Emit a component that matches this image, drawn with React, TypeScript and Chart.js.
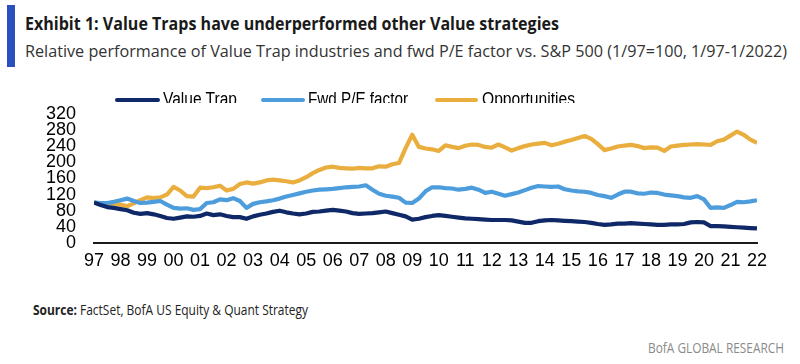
import React, { useEffect, useLayoutEffect, useRef } from "react";
import { Chart, registerables } from "chart.js";

Chart.register(...registerables);

// Quarterly observation dates, Jan 1997 .. Jan 2022
const firstYear = 1997;
const lastYear = 2022;
const quarters: number[] = Array.from({ length: (lastYear - firstYear) * 4 + 1 }, (_, i) => firstYear + i / 4);

const seriesNames = ["Value Trap", "Fwd P/E factor", "Opportunities"];

const valueTrap: number[] = [
  100, 94, 89, 87,
  84, 81, 75, 72,
  74, 71, 67, 62,
  60, 63, 66, 65,
  67, 73, 69, 71,
  67, 64, 64, 60,
  66, 70, 73, 77,
  80, 76, 73, 71,
  73, 77, 78, 80,
  82, 80, 78, 74,
  72, 73, 74, 76,
  78, 74, 70, 66,
  58, 60, 64, 67,
  69, 67, 65, 63,
  61, 60, 59, 58,
  57, 57, 57, 56,
  53, 50, 50, 54,
  56, 57, 56, 55,
  54, 53, 52, 50,
  47, 45, 46, 48,
  48, 49, 48, 47,
  46, 45, 45, 46,
  46, 47, 51, 52,
  51, 42, 42, 41,
  40, 39, 38, 37,
  36,
];

const fwdPE: number[] = [
  100, 99, 99, 102,
  106, 110, 104, 99,
  100, 102, 104, 95,
  87, 85, 86, 82,
  84, 99, 101, 108,
  106, 111, 104, 87,
  97, 101, 103, 106,
  110, 115, 119, 123,
  127, 130, 132, 133,
  134, 136, 138, 139,
  140, 143, 132, 122,
  117, 115, 112, 100,
  99, 110, 128, 138,
  138, 136, 135, 132,
  134, 137, 132, 124,
  127, 122, 117, 121,
  125, 131, 137, 141,
  140, 139, 140, 133,
  130, 128, 127, 124,
  119, 116, 112, 120,
  127, 127, 123, 122,
  125, 124, 120, 118,
  116, 113, 112, 116,
  108, 87, 88, 87,
  94, 102, 101, 103,
  106,
];

const opportunities: number[] = [
  102, 95, 97, 98,
  95, 91, 98, 106,
  113, 111, 113, 120,
  139, 130, 116, 115,
  137, 136, 138, 142,
  130, 134, 146, 150,
  147, 150, 155, 157,
  155, 153, 150, 155,
  163, 173, 181, 187,
  189, 186, 185, 184,
  186, 185, 185, 190,
  189, 195, 198, 235,
  268, 238, 234, 232,
  228, 242, 238, 235,
  241, 244, 243, 238,
  236, 244, 237, 229,
  235, 240, 244, 246,
  248, 242, 246, 251,
  255, 260, 265, 258,
  245, 230, 234, 239,
  241, 243, 240, 235,
  237, 236, 228, 239,
  241, 243, 244, 245,
  244, 243, 252, 256,
  266, 276, 268, 256,
  248,
];

const yTicks = { min: 0, max: 320, step: 40 };

const colors = ["#0f2868", "#4d9ddd", "#e9ae3e"];
const narrow = "'Liberation Sans Narrow', 'Arial Narrow', 'Liberation Sans', Arial, sans-serif";

function FitText(props: { width: number; style?: React.CSSProperties; children: React.ReactNode }) {
  const ref = useRef<HTMLSpanElement>(null);
  useLayoutEffect(() => {
    const el = ref.current;
    if (!el) return;
    el.style.transform = "none";
    const w = el.getBoundingClientRect().width;
    if (w > 0) el.style.transform = `scaleX(${props.width / w})`;
  });
  return (
    <span
      ref={ref}
      style={{ display: "inline-block", whiteSpace: "nowrap", transformOrigin: "left top", ...props.style }}
    >
      {props.children}
    </span>
  );
}

export default function App() {
  const canvasRef = useRef<HTMLCanvasElement>(null);

  useEffect(() => {
    document.body.style.margin = "0";
    const ctx = canvasRef.current!;
    const series = [valueTrap, fwdPE, opportunities];
    const chart = new Chart(ctx, {
      type: "line",
      data: {
        datasets: series.map((vals, k) => ({
          label: seriesNames[k],
          data: quarters.map((x, i) => ({ x, y: vals[i] })),
          borderColor: colors[k],
          backgroundColor: colors[k],
          borderWidth: 4.2,
          pointRadius: 0,
          tension: 0,
          borderJoinStyle: "round" as const,
          fill: false,
        })),
      },
      options: {
        animation: false,
        responsive: false,
        maintainAspectRatio: false,
        layout: { padding: { top: 13, right: 43, left: 0, bottom: 0 } },
        plugins: { legend: { display: false }, tooltip: { enabled: false } },
        scales: {
          x: {
            type: "linear",
            min: firstYear,
            max: lastYear,
            grid: { display: false, drawTicks: false },
            border: { display: true, color: "#1a1a1a", width: 2 },
            ticks: {
              stepSize: 1,
              autoSkip: false,
              maxRotation: 0,
              padding: 7,
              color: "#000",
              font: { family: narrow, size: 18 },
              callback: (v: any) => String(Number(v) % 100).padStart(2, "0"),
            },
            afterFit: (s: any) => {
              s.height = 32;
            },
          },
          y: {
            min: yTicks.min,
            max: yTicks.max,
            grid: { display: false, drawTicks: false },
            border: { display: false },
            ticks: {
              stepSize: yTicks.step,
              autoSkip: false,
              padding: 18,
              color: "#000",
              font: { family: narrow, size: 18 },
            },
            afterFit: (s: any) => {
              s.width = 94;
            },
          },
        },
      },
    });
    return () => chart.destroy();
  }, []);

  const legendItems = [
    { line: [115, 160], text: 163, w: 74 },
    { line: [261, 305], text: 308, w: 100 },
    { line: [435, 478], text: 482, w: 93 },
  ];

  return (
    <div
      style={{
        position: "fixed",
        left: 0,
        top: 0,
        width: 800,
        height: 364,
        background: "#fff",
        overflow: "hidden",
      }}
    >
      <div style={{ position: "absolute", left: 7, top: 5, width: 8, height: 62, background: "#2a50bf" }} />
      <div style={{ position: "absolute", left: 25, top: 14, lineHeight: 1 }}>
        <FitText width={534} style={{ fontFamily: "'Open Sans', sans-serif", fontWeight: 700, fontSize: 18, color: "#1a1a1a", lineHeight: 1 }}>
          Exhibit 1: Value Traps have underperformed other Value strategies
        </FitText>
      </div>
      <div style={{ position: "absolute", left: 25, top: 42, lineHeight: 1 }}>
        <FitText width={762} style={{ fontFamily: "'Open Sans', sans-serif", fontWeight: 400, fontSize: 17, color: "#333", lineHeight: 1 }}>
          Relative performance of Value Trap industries and fwd P/E factor vs. S&amp;P 500 (1/97=100, 1/97-1/2022)
        </FitText>
      </div>

      <canvas
        ref={canvasRef}
        width={800}
        height={190}
        style={{ position: "absolute", left: 0, top: 85, width: 800, height: 190 }}
      />

      <div style={{ position: "absolute", left: 0, top: 80, width: 800, height: 23, overflow: "hidden" }}>
        {legendItems.map((it, k) => (
          <React.Fragment key={k}>
            <div
              style={{
                position: "absolute",
                left: it.line[0],
                top: 18,
                width: it.line[1] - it.line[0],
                height: 4,
                borderRadius: 2,
                background: colors[k],
              }}
            />
            <div style={{ position: "absolute", left: it.text, top: 10, lineHeight: 1 }}>
              <FitText width={it.w} style={{ fontFamily: narrow, fontSize: 18, color: "#000", lineHeight: 1 }}>
                {seriesNames[k]}
              </FitText>
            </div>
          </React.Fragment>
        ))}
      </div>

      <div style={{ position: "absolute", left: 33, top: 302, lineHeight: 1 }}>
        <FitText width={275} style={{ fontFamily: "'Open Sans', sans-serif", fontSize: 14, color: "#222", lineHeight: 1 }}>
          <b>Source:</b> FactSet, BofA US Equity &amp; Quant Strategy
        </FitText>
      </div>
      <div style={{ position: "absolute", left: 648, top: 340, lineHeight: 1 }}>
        <FitText width={136} style={{ fontFamily: "'Open Sans', sans-serif", fontSize: 14, color: "#8a8a8a", lineHeight: 1 }}>
          BofA GLOBAL RESEARCH
        </FitText>
      </div>
    </div>
  );
}
